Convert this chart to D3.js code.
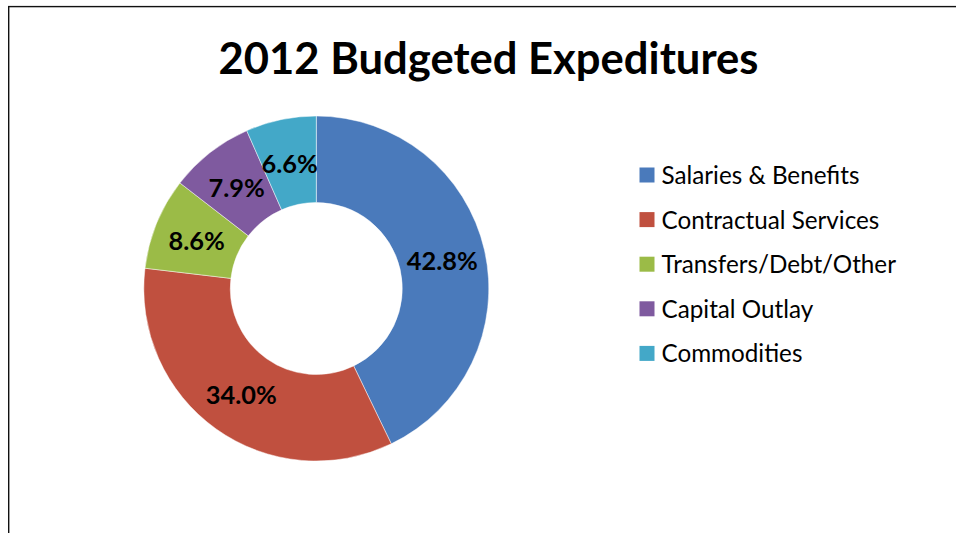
<!DOCTYPE html>
<html>
<head>
<meta charset="utf-8">
<script src="https://cdn.jsdelivr.net/npm/d3@7"></script>
<style>
  html, body { margin: 0; padding: 0; background: #fff; }
  svg { display: block; }
</style>
</head>
<body>
<svg id="chart" width="956" height="533"></svg>
<script>
// Budget categories and their share of 2012 expenditures (percent)
const categories = ["Salaries & Benefits", "Contractual Services", "Transfers/Debt/Other", "Capital Outlay", "Commodities"];
const shares = [42.8, 34.0, 8.6, 7.9, 6.6];
const colors = ["#4a7abb", "#c0503f", "#9bbb47", "#7f5a9f", "#43a8c8"];
const title = "2012 Budgeted Expeditures";

const W = 956, H = 533;
const svg = d3.select("#chart");
const fontStack = "Lato, 'Open Sans', 'Liberation Sans', sans-serif";

// chart frame (top and left edges visible; the rest runs off the page)
svg.append("rect")
  .attr("x", 8.7).attr("y", 6.6)
  .attr("width", 1000).attr("height", 1000)
  .attr("fill", "none")
  .attr("stroke", "#111")
  .attr("stroke-width", 1.4);

// fit a text node to a target width by adjusting its font size
function fitWidth(sel, target, startSize) {
  sel.attr("font-size", startSize);
  const w = sel.node().getComputedTextLength();
  const size = startSize * target / w;
  sel.attr("font-size", size);
  return size;
}

// title
const t = svg.append("text")
  .attr("x", 488.5).attr("y", 73.5)
  .attr("text-anchor", "middle")
  .attr("font-family", fontStack)
  .attr("font-weight", "bold")
  .attr("fill", "#000")
  .text(title);
fitWidth(t, 540, 44);

// doughnut
const cx = 316.3, cy = 288.5, outerR = 172.5, innerR = 86;
const pieData = categories.map((c, i) => ({ name: c, value: shares[i], color: colors[i] }));
const pie = d3.pie().sort(null).value(d => d.value);
const arc = d3.arc().innerRadius(innerR).outerRadius(outerR);
const labelArc = d3.arc().innerRadius((innerR + outerR) / 2).outerRadius((innerR + outerR) / 2);

const g = svg.append("g").attr("transform", `translate(${cx},${cy})`);
const arcs = pie(pieData);

g.selectAll("path.slice")
  .data(arcs)
  .join("path")
  .attr("class", "slice")
  .attr("d", arc)
  .attr("fill", d => d.data.color)
  .attr("stroke", "#ffffff")
  .attr("stroke-opacity", 0.6)
  .attr("stroke-width", 0.8);

const fmt = d3.format(".1f");
const labels = g.selectAll("text.lbl")
  .data(arcs)
  .join("text")
  .attr("class", "lbl")
  .attr("transform", d => `translate(${labelArc.centroid(d)})`)
  .attr("text-anchor", "middle")
  .attr("dy", "0.42em")
  .attr("font-family", fontStack)
  .attr("font-weight", "bold")
  .attr("fill", "#000")
  .text(d => fmt(d.data.value) + "%");
// size labels so "42.8%" is about 71px wide
const lblSize = fitWidth(d3.select(labels.nodes()[0]), 71, 22);
labels.attr("font-size", lblSize);

// legend
const legX = 639.5, legY0 = 175, legStep = 44.6;
const leg = svg.append("g");
const items = leg.selectAll("g.item")
  .data(pieData)
  .join("g")
  .attr("class", "item")
  .attr("transform", (d, i) => `translate(${legX},${legY0 + i * legStep})`);
items.append("rect")
  .attr("x", 0).attr("y", -7.5)
  .attr("width", 15).attr("height", 15)
  .attr("fill", d => d.color);
const legTexts = items.append("text")
  .attr("x", 22).attr("y", 0)
  .attr("dy", "0.37em")
  .attr("font-family", fontStack)
  .attr("fill", "#000")
  .text(d => d.name);
const legSize = fitWidth(d3.select(legTexts.nodes()[0]), 198, 20);
legTexts.attr("font-size", legSize);
</script>
</body>
</html>
